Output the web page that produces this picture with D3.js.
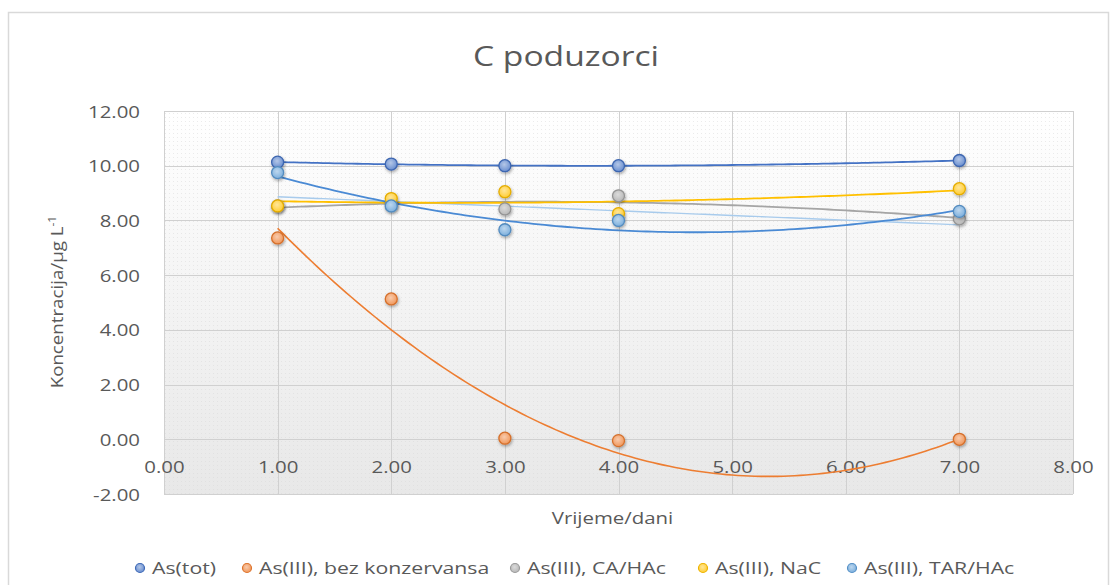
<!DOCTYPE html>
<html>
<head>
<meta charset="utf-8">
<script src="https://cdn.jsdelivr.net/npm/d3@7"></script>
<style>
  html, body { margin: 0; padding: 0; background: #fff; }
  svg { display: block; }
  text { font-family: "Open Sans", "DejaVu Sans", sans-serif; fill: #595959; }
</style>
</head>
<body>
<svg id="chart" width="1117" height="585"></svg>
<script>
// ---- data ----
const title = "C poduzorci";
const xTitle = "Vrijeme/dani";
const yTitleMain = "Koncentracija/µg L";
const yTitleSup = "-1";
const days = [1, 2, 3, 4, 7];
const seriesNames = ["As(tot)", "As(III), bez konzervansa", "As(III), CA/HAc", "As(III), NaC", "As(III), TAR/HAc"];
const asTot = [10.13, 10.06, 10.00, 10.00, 10.19];
const asBez = [7.36, 5.13, 0.04, -0.05, 0.00];
const asCA  = [8.53, 8.60, 8.42, 8.90, 8.06];
const asNaC = [8.53, 8.80, 9.05, 8.25, 9.16];
const asTAR = [9.75, 8.53, 7.66, 8.00, 8.33];
const xTicks = [0, 1, 2, 3, 4, 5, 6, 7, 8];
const yTicks = [-2, 0, 2, 4, 6, 8, 10, 12];
const colors = ["#4472C4", "#ED7D31", "#A5A5A5", "#FFC000", "#5B9BD5"];

const seriesValues = [asTot, asBez, asCA, asNaC, asTAR];

// ---- layout ----
const svg = d3.select("#chart");
const plot = { left: 164, right: 1073, top: 111, bottom: 494 };
const x = d3.scaleLinear().domain([0, 8]).range([plot.left, plot.right]);
const y = d3.scaleLinear().domain([-2, 12]).range([plot.bottom, plot.top]);
const fmt = d3.formatLocale({ decimal: ".", thousands: ",", grouping: [3], currency: ["", ""], minus: "-" }).format(".2f");

function stretch(sel, k) {
  sel.each(function() {
    const L = this.getComputedTextLength();
    if (L > 0) d3.select(this).attr("textLength", L * k).attr("lengthAdjust", "spacingAndGlyphs");
  });
}

const defs = svg.append("defs");
const bg = defs.append("linearGradient").attr("id", "bg").attr("x1", 0).attr("y1", 0).attr("x2", 0).attr("y2", 1);
bg.append("stop").attr("offset", "0%").attr("stop-color", "#ffffff");
bg.append("stop").attr("offset", "100%").attr("stop-color", "#e8e8e8");
const pat = defs.append("pattern").attr("id", "dots").attr("width", 4).attr("height", 4).attr("patternUnits", "userSpaceOnUse");
pat.append("rect").attr("x", 1).attr("y", 1).attr("width", 1).attr("height", 1).attr("fill", "#d8d8d8").attr("opacity", 0.5);

const flt = defs.append("filter").attr("id", "shadow").attr("x", "-50%").attr("y", "-50%").attr("width", "200%").attr("height", "200%");
flt.append("feDropShadow").attr("dx", 0.8).attr("dy", 1.6).attr("stdDeviation", 1.4).attr("flood-color", "#000").attr("flood-opacity", 0.35);

colors.forEach((c, i) => {
  const g = defs.append("radialGradient").attr("id", "mk" + i).attr("cx", "45%").attr("cy", "40%").attr("r", "60%");
  g.append("stop").attr("offset", "0%").attr("stop-color", d3.interpolateRgb(c, "#fff")(0.6));
  g.append("stop").attr("offset", "100%").attr("stop-color", d3.interpolateRgb(c, "#fff")(0.2));
});

// chart border
svg.append("rect").attr("x", 8.5).attr("y", 12.5).attr("width", 1100).attr("height", 600)
  .attr("fill", "#fff").attr("stroke", "#d9d9d9").attr("stroke-width", 1.5);

// plot background
svg.append("rect").attr("x", plot.left).attr("y", plot.top)
  .attr("width", plot.right - plot.left).attr("height", plot.bottom - plot.top).attr("fill", "url(#bg)");
svg.append("rect").attr("x", plot.left).attr("y", plot.top)
  .attr("width", plot.right - plot.left).attr("height", plot.bottom - plot.top).attr("fill", "url(#dots)");

// grid
const grid = svg.append("g");
grid.selectAll("line.v").data(xTicks).enter().append("line")
  .attr("x1", d => Math.round(x(d)) + 0.5).attr("x2", d => Math.round(x(d)) + 0.5)
  .attr("y1", plot.top).attr("y2", plot.bottom)
  .attr("stroke", "#d0d0d0").attr("stroke-width", 1);
grid.selectAll("line.h").data(yTicks).enter().append("line")
  .attr("y1", d => Math.round(y(d)) + 0.5).attr("y2", d => Math.round(y(d)) + 0.5)
  .attr("x1", plot.left).attr("x2", plot.right)
  .attr("stroke", "#d0d0d0").attr("stroke-width", 1);

// axes (labels via d3 axes)
const yAxis = svg.append("g").attr("transform", `translate(${plot.left - 24},0)`)
  .call(d3.axisLeft(y).tickValues(yTicks).tickFormat(fmt).tickSize(0).tickPadding(0));
yAxis.select(".domain").remove();
yAxis.selectAll("text").attr("font-size", 17).attr("fill", "#595959")
  .attr("font-family", "Open Sans").attr("dy", "0.36em");

const xAxis = svg.append("g").attr("transform", `translate(0,${y(0) + 22})`)
  .call(d3.axisBottom(x).tickValues(xTicks).tickFormat(fmt).tickSize(0).tickPadding(0));
xAxis.select(".domain").remove();
xAxis.selectAll("text").attr("font-size", 17).attr("fill", "#595959")
  .attr("font-family", "Open Sans").attr("dy", "0.71em");

// trendlines: least squares polynomial fits of the series
function polyFit(xs, ys, deg) {
  const n = deg + 1;
  const A = Array.from({length: n}, () => new Array(n + 1).fill(0));
  for (let r = 0; r < n; r++) {
    for (let c = 0; c < n; c++) A[r][c] = d3.sum(xs, v => Math.pow(v, r + c));
    A[r][n] = d3.sum(xs, (v, i) => ys[i] * Math.pow(v, r));
  }
  for (let i = 0; i < n; i++) {
    let p = i;
    for (let k = i + 1; k < n; k++) if (Math.abs(A[k][i]) > Math.abs(A[p][i])) p = k;
    [A[i], A[p]] = [A[p], A[i]];
    for (let k = i + 1; k < n; k++) {
      const f = A[k][i] / A[i][i];
      for (let j = i; j <= n; j++) A[k][j] -= f * A[i][j];
    }
  }
  const coef = new Array(n).fill(0);
  for (let i = n - 1; i >= 0; i--) {
    let s = A[i][n];
    for (let j = i + 1; j < n; j++) s -= A[i][j] * coef[j];
    coef[i] = s / A[i][i];
  }
  return t => coef.reduce((acc, c, i) => acc + c * Math.pow(t, i), 0);
}

const xmin = d3.min(days), xmax = d3.max(days);
const samples = d3.range(xmin, xmax + 1e-9, 0.05);
const lineGen = d3.line().x(d => x(d[0])).y(d => y(d[1]));
const trend = svg.append("g").attr("fill", "none");

const trendDefs = [
  { s: 4, deg: 1, color: "#a8cbec", width: 1.4 },
  { s: 0, deg: 2, color: "#4472C4", width: 1.8 },
  { s: 1, deg: 2, color: "#ED7D31", width: 1.6 },
  { s: 2, deg: 2, color: "#A5A5A5", width: 1.8 },
  { s: 3, deg: 2, color: "#FFC000", width: 1.8 },
  { s: 4, deg: 2, color: "#4a8ad4", width: 1.8 }
];
trendDefs.forEach(t => {
  const f = polyFit(days, seriesValues[t.s], t.deg);
  trend.append("path").datum(samples.map(v => [v, f(v)]))
    .attr("d", lineGen).attr("stroke", t.color).attr("stroke-width", t.width);
});

// markers
const marks = svg.append("g");
seriesValues.forEach((vals, i) => {
  marks.append("g").selectAll("circle").data(days.map((d, k) => [d, vals[k]])).enter()
    .append("circle")
    .attr("cx", d => x(d[0])).attr("cy", d => y(d[1])).attr("r", 6)
    .attr("fill", `url(#mk${i})`)
    .attr("stroke", d3.color(colors[i]).darker(0.3)).attr("stroke-width", 1.3)
    .attr("filter", "url(#shadow)");
});

// title
const tt = svg.append("text").attr("x", 566).attr("y", 66).attr("text-anchor", "middle")
  .attr("font-size", 28).attr("fill", "#7a7a7a").text(title);

// axis titles
const xt = svg.append("text").attr("x", (plot.left + plot.right) / 2 - 6).attr("y", 524).attr("text-anchor", "middle")
  .attr("font-size", 17).text(xTitle);
const yt = svg.append("text").attr("transform", "translate(63,302) rotate(-90)").attr("text-anchor", "middle")
  .attr("font-size", 17);
yt.append("tspan").text(yTitleMain);
yt.append("tspan").attr("font-size", 11).attr("dy", -7).text(yTitleSup);

// legend
const legX = [140, 247, 515, 703, 852];
const leg = svg.append("g");
seriesNames.forEach((name, i) => {
  leg.append("circle").attr("cx", legX[i]).attr("cy", 568).attr("r", 4.5)
    .attr("fill", `url(#mk${i})`).attr("stroke", d3.color(colors[i]).darker(0.2)).attr("stroke-width", 1.2);
  leg.append("text").attr("class", "legt").attr("x", legX[i] + 12).attr("y", 574)
    .attr("font-size", 17).text(name);
});

// widen text to match the reference's wide type
stretch(svg.selectAll(".tick text"), 1.2);
stretch(tt, 1.2);
stretch(xt, 1.2);
stretch(svg.selectAll(".legt"), 1.25);
yt.selectAll("tspan").each(function() {
  const L = this.getComputedTextLength();
  d3.select(this).attr("textLength", L * 1.1).attr("lengthAdjust", "spacingAndGlyphs");
});
</script>
</body>
</html>
